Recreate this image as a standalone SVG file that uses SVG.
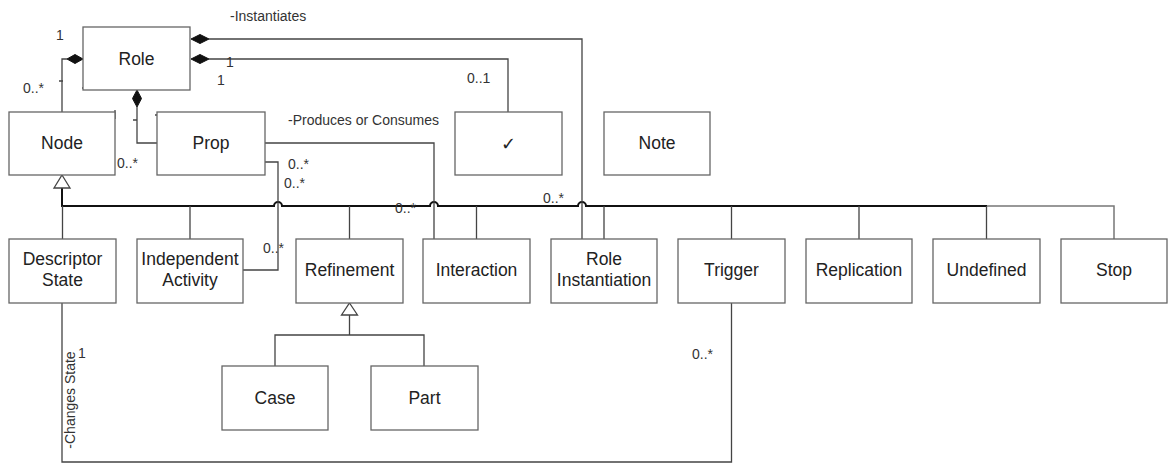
<svg xmlns="http://www.w3.org/2000/svg" width="1171" height="465" viewBox="0 0 1171 465">
<style>
.box{fill:#fff;stroke:#666;stroke-width:1.3}
.t{font-family:"Liberation Sans",Arial,sans-serif;font-size:17.5px;fill:#222;text-anchor:middle}
.l{font-family:"Liberation Sans",Arial,sans-serif;font-size:14px;fill:#333}
.ln{fill:none;stroke:#444;stroke-width:1.3}
.bus{fill:none;stroke:#111;stroke-width:2}
.gray{fill:none;stroke:#777;stroke-width:1.5}
.dia{fill:#111;stroke:#111;stroke-width:1}
.tri{fill:#fff;stroke:#444;stroke-width:1.3}
</style>
<rect width="1171" height="465" fill="#fff"/>
<g id="connectors">
  <path class="bus" d="M62,188 V206 H274 a4,4 0 0 1 8,0 H430 a4,4 0 0 1 8,0 H578 a4,4 0 0 1 8,0 H987"/>
  <path class="gray" d="M987,206 H1114 V239"/>
  <path class="ln" d="M62.5,206 V239 M190,206 V239 M349.5,206 V239 M476.5,206 V239 M604,206 V239 M731.5,206 V239 M859,206 V239 M986.5,206 V239"/>
  <polygon class="tri" points="62,175 70,188 54,188"/>
  <path class="ln" d="M67,59 H62 V112"/>
  <polygon class="dia" points="83,59 75,54.5 67,59 75,63.5"/>
  <path class="ln" d="M137,107 V143 H157"/>
  <polygon class="dia" points="137,90 141.5,98.5 137,107 132.5,98.5"/>
  <path class="ln" d="M209,39 H582 V239"/>
  <polygon class="dia" points="191,39 200,34.5 209,39 200,43.5"/>
  <path class="ln" d="M209,59 H508 V112"/>
  <polygon class="dia" points="191,59 200,54.5 209,59 200,63.5"/>
  <path class="ln" d="M265,143 H434 V239"/>
  <path class="ln" d="M265,162 H278 V270 H243"/>
  <path class="ln" d="M62,303 V462 H731.5 V303"/>
  <path class="ln" d="M349.5,315 V335 M275,366 V335 H424 V366"/>
  <polygon class="tri" points="349.5,303 357.5,315 341.5,315"/>
  <path class="ln" d="M59,81 H63 M82,88 H85 M115,110 V119 M133,120 H137 M155,115 H158"/>
</g>
<g id="labels">
  <text class="l" x="230" y="21">-Instantiates</text>
  <text class="l" x="288" y="125">-Produces or Consumes</text>
  <text class="l" x="56" y="40">1</text>
  <text class="l" x="23" y="93">0..*</text>
  <text class="l" x="117" y="168">0..*</text>
  <text class="l" x="226" y="67">1</text>
  <text class="l" x="217" y="85">1</text>
  <text class="l" x="467" y="83">0..1</text>
  <text class="l" x="288" y="169">0..*</text>
  <text class="l" x="284" y="188">0..*</text>
  <text class="l" x="395" y="213">0..*</text>
  <text class="l" x="543" y="203">0..*</text>
  <text class="l" x="263" y="253">0..*</text>
  <text class="l" x="78" y="358">1</text>
  <text class="l" x="692" y="359">0..*</text>
  <text class="l" x="75" y="400" text-anchor="middle" transform="rotate(-90 75 400)">-Changes State</text>
</g>
<g id="role"><rect class="box" x="83" y="27" width="107" height="63"/><text class="t" x="136.5" y="65">Role</text></g>
<g id="node"><rect class="box" x="9" y="112" width="106" height="63"/><text class="t" x="62" y="149">Node</text></g>
<g id="prop"><rect class="box" x="157" y="112" width="108" height="63"/><text class="t" x="211" y="149">Prop</text></g>
<g id="check"><rect class="box" x="455" y="112" width="107" height="63"/><text class="t" x="508.5" y="150" style="font-family:'DejaVu Sans',sans-serif;font-size:18px">✓</text></g>
<g id="note"><rect class="box" x="604" y="112" width="106" height="63"/><text class="t" x="657" y="149">Note</text></g>
<g id="descriptor-state"><rect class="box" x="9" y="239" width="107" height="64"/><text class="t" x="62.5" y="265">Descriptor</text><text class="t" x="62.5" y="286">State</text></g>
<g id="independent-activity"><rect class="box" x="137" y="239" width="106" height="64"/><text class="t" x="190" y="265">Independent</text><text class="t" x="190" y="286">Activity</text></g>
<g id="refinement"><rect class="box" x="296" y="239" width="107" height="64"/><text class="t" x="349.5" y="276">Refinement</text></g>
<g id="interaction"><rect class="box" x="423" y="239" width="107" height="64"/><text class="t" x="476.5" y="276">Interaction</text></g>
<g id="role-instantiation"><rect class="box" x="551" y="239" width="106" height="64"/><text class="t" x="604" y="265">Role</text><text class="t" x="604" y="286">Instantiation</text></g>
<g id="trigger"><rect class="box" x="678" y="239" width="107" height="64"/><text class="t" x="731.5" y="276">Trigger</text></g>
<g id="replication"><rect class="box" x="806" y="239" width="106" height="64"/><text class="t" x="859" y="276">Replication</text></g>
<g id="undefined"><rect class="box" x="933" y="239" width="107" height="64"/><text class="t" x="986.5" y="276">Undefined</text></g>
<g id="stop"><rect class="box" x="1061" y="239" width="106" height="64"/><text class="t" x="1114" y="276">Stop</text></g>
<g id="case"><rect class="box" x="222" y="366" width="106" height="64"/><text class="t" x="275" y="404">Case</text></g>
<g id="part"><rect class="box" x="371" y="366" width="107" height="64"/><text class="t" x="424.5" y="404">Part</text></g>
</svg>
